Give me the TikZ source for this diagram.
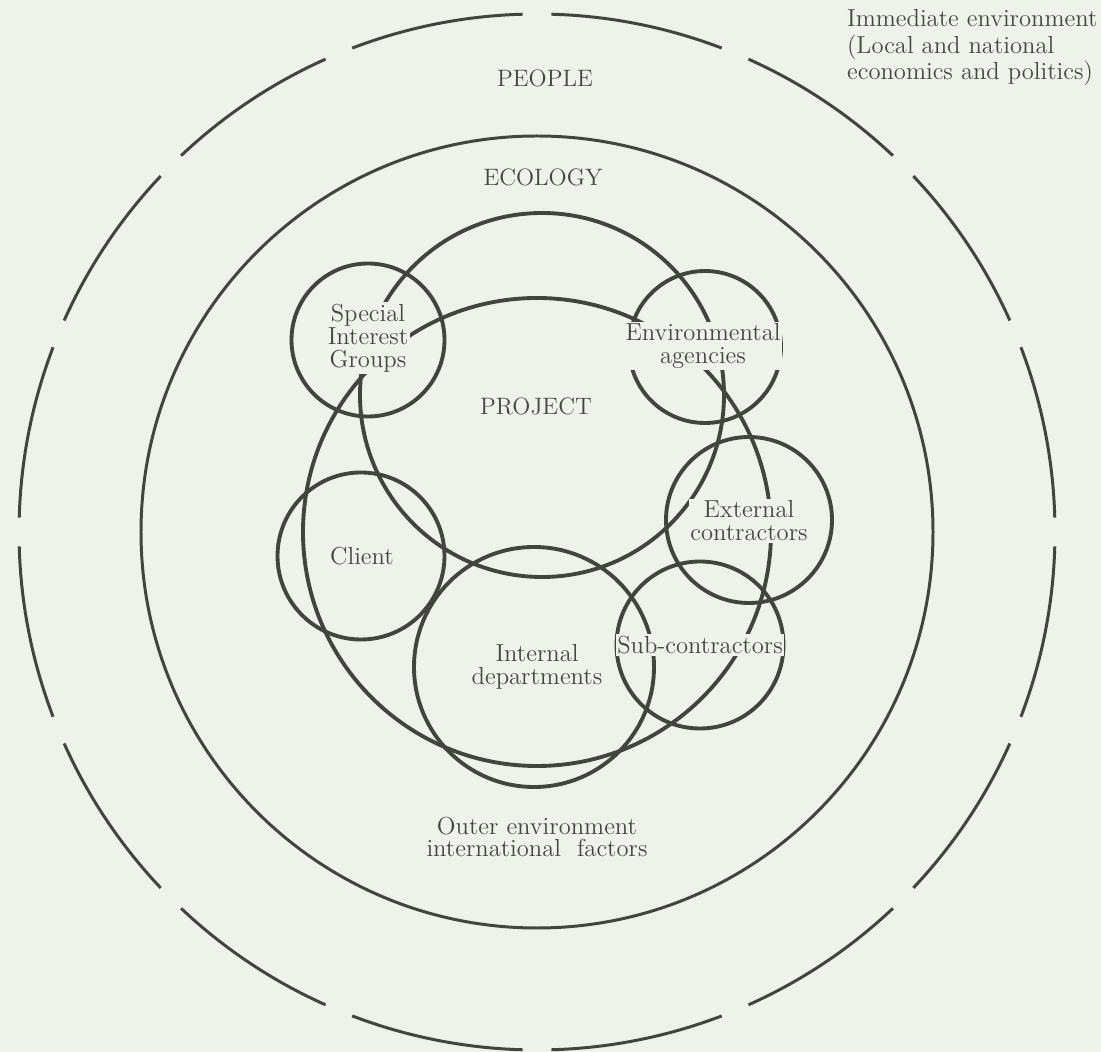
\documentclass[tikz,border=0pt]{standalone}
\usetikzlibrary{positioning}
\definecolor{paper}{RGB}{238,242,235}
\definecolor{ink}{RGB}{66,68,62}
\definecolor{print}{RGB}{68,70,64}

\begin{document}
\begin{tikzpicture}[
    ring/.style={draw=ink, line width=2.2pt, circle, inner sep=0pt},
    tag/.style={fill=paper, text=print, inner sep=1pt, align=center, font=\fontsize{14}{13}\selectfont},
    caps/.style={tag, font=\fontsize{13.5}{13}\selectfont},
    heading/.style={text=print, inner sep=1pt, align=left, font=\fontsize{14}{13}\selectfont}
  ]
  \fill[paper] (0,0) rectangle (22.02,21.04);
  \useasboundingbox (0,0) rectangle (22.02,21.04);

  \coordinate (centre) at (10.74,10.40);

  % people (broken ring)
  \foreach \a in {0,22.5,...,337.5}
    \draw[ink, line width=1.7pt] (centre) ++(\a+1.6:10.36) arc[start angle=\a+1.6, end angle=\a+20.9, radius=10.36];

  % ecology
  \node[ring, line width=1.7pt, minimum size=15.84cm] (ecology) at (centre) {};

  % project
  \node[ring, minimum size=9.36cm] (outerproject) at (centre) {};
  \node[ring, minimum size=7.28cm] (project) at (10.84,13.14) {};

  % parties
  \node[ring, minimum size=3.06cm] (sig) at (7.36,14.24) {};
  \node[ring, minimum size=3.04cm] (agencies) at (14.10,14.10) {};
  \node[ring, minimum size=3.32cm] (external) at (14.98,10.64) {};
  \node[ring, minimum size=3.34cm] (client) at (7.22,9.92) {};
  \node[ring, minimum size=4.80cm] (internal) at (10.68,7.70) {};
  \node[ring, minimum size=3.34cm] (sub) at (14.00,8.14) {};

  % labels
  \node[tag] (sigtxt) at (7.36,14.28) {Special\\Interest\\Groups};
  \node[tag] (agenciestxt) at (14.06,14.12) {Environmental\\agencies};
  \node[tag] (externaltxt) at (14.98,10.62) {External\\contractors};
  \node[tag] (clienttxt) at (7.24,9.92) {Client};
  \node[tag] (internaltxt) at (10.74,7.70) {Internal\\departments};
  \node[tag] (subtxt) at (14.00,8.14) {Sub-contractors};
  \node[caps] (projecttxt) at (10.72,12.92) {PROJECT};

  \node[caps] (ecologytxt) at (10.86,17.50) {ECOLOGY};
  \node[caps] (peopletxt) at (10.90,19.48) {PEOPLE};
  \node[tag] (outertxt) at (10.74,4.30) {Outer environment\\international\ \ factors};

  \node[heading, anchor=north west] (immediate) at (16.90,20.90) {Immediate environment};
  \node[heading, anchor=north west, font=\fontsize{14}{10.4}\selectfont] (localtxt) at (16.90,20.38) {(Local and national\\economics and politics)};
\end{tikzpicture}
\end{document}
